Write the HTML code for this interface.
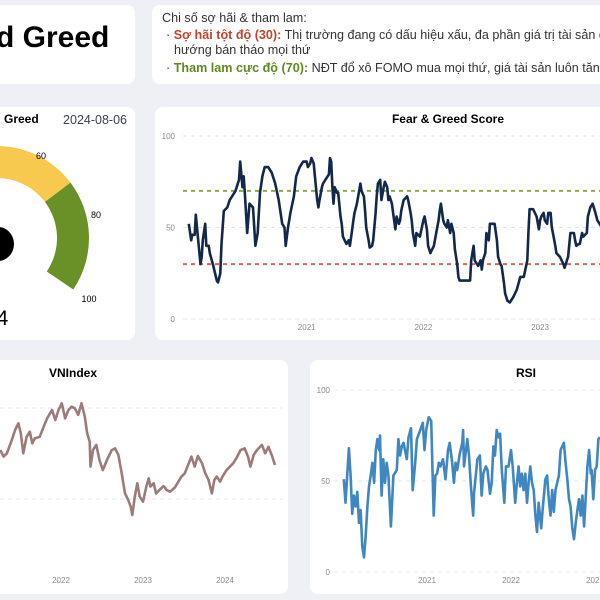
<!DOCTYPE html>
<html><head><meta charset="utf-8">
<style>
body{margin:0;width:600px;height:600px;overflow:hidden;background:#eef0f6;font-family:"Liberation Sans",sans-serif;position:relative}
.card{position:absolute;background:#fff;border-radius:8px}
.t{position:absolute;white-space:nowrap}
</style></head><body>
<div style="position:absolute;left:0;top:0;width:600px;height:600px;overflow:hidden">
<div class="card" style="left:-20px;top:5px;width:155px;height:79px">
  <div class="t" style="left:16px;top:16px;font-size:30px;font-weight:bold;color:#000">d Greed</div>
</div>
<div class="card" style="left:152px;top:5px;width:448px;height:79px;font-size:12.6px;color:#333;overflow:hidden;border-radius:8px 0 0 8px">
  <div class="t" style="left:10px;top:6px">Chi số sợ hãi &amp; tham lam:</div>
  <div class="t" style="left:14px;top:23px">· <b style="color:#c0452b">Sợ hãi tột độ (30):</b> Thị trường đang có dấu hiệu xấu, đa phần giá trị tài sản đều giảm</div>
  <div class="t" style="left:22px;top:38px">hướng bán tháo mọi thứ</div>
  <div class="t" style="left:14px;top:56px">· <b style="color:#5e8a1e">Tham lam cực độ (70):</b> NĐT đổ xô FOMO mua mọi thứ, giá tài sản luôn tăng mỗi ngày</div>
</div>
<div class="card" style="left:-20px;top:107px;width:155px;height:233px"></div>
<div class="card" style="left:155px;top:107px;width:445px;height:233px;border-radius:8px 0 0 8px"></div>
<div class="card" style="left:-20px;top:360px;width:308px;height:234px"></div>
<div class="card" style="left:310px;top:360px;width:290px;height:234px;border-radius:8px 0 0 8px"></div>

<svg id="s" width="600" height="600" style="position:absolute;left:0;top:0" font-family="Liberation Sans, sans-serif">
  <text x="4" y="123" font-size="12" font-weight="bold">Greed</text>
  <text x="127" y="124" font-size="12.5" text-anchor="end" fill="#3a4050">2024-08-06</text>
  <g id="gauge"></g>
  <text x="41" y="159" font-size="9" text-anchor="middle">60</text>
  <text x="96" y="218" font-size="9" text-anchor="middle">80</text>
  <text x="89" y="302" font-size="9" text-anchor="middle">100</text>
  <text x="-15" y="325" font-size="21">54</text>
  <text x="448" y="123" font-size="12" font-weight="bold" text-anchor="middle">Fear &amp; Greed Score</text>
  <text x="73" y="377" font-size="12" font-weight="bold" text-anchor="middle">VNIndex</text>
  <text x="526" y="377" font-size="12" font-weight="bold" text-anchor="middle">RSI</text>
  <g id="charts"></g>
</svg>
</div>
<script>
// Fear & Greed data
const fgDates=[2019.99,2020.01,2020.02,2020.04,2020.05,2020.07,2020.09,2020.10,2020.11,2020.13,2020.14,2020.16,2020.17,2020.20,2020.23,2020.24,2020.26,2020.27,2020.29,2020.32,2020.34,2020.37,2020.39,2020.42,2020.43,2020.45,2020.46,2020.47,2020.49,2020.51,2020.54,2020.56,2020.58,2020.60,2020.62,2020.64,2020.67,2020.70,2020.73,2020.76,2020.79,2020.81,2020.82,2020.84,2020.86,2020.89,2020.91,2020.94,2020.97,2021.00,2021.01,2021.03,2021.04,2021.06,2021.07,2021.09,2021.10,2021.11,2021.13,2021.14,2021.17,2021.19,2021.20,2021.21,2021.22,2021.23,2021.24,2021.26,2021.27,2021.29,2021.30,2021.31,2021.34,2021.36,2021.37,2021.39,2021.40,2021.41,2021.43,2021.46,2021.47,2021.49,2021.50,2021.51,2021.53,2021.54,2021.56,2021.57,2021.59,2021.60,2021.61,2021.63,2021.64,2021.66,2021.67,2021.69,2021.70,2021.71,2021.73,2021.74,2021.76,2021.77,2021.79,2021.80,2021.81,2021.83,2021.86,2021.87,2021.89,2021.90,2021.91,2021.93,2021.94,2021.97,2022.00,2022.01,2022.03,2022.04,2022.06,2022.09,2022.11,2022.13,2022.14,2022.15,2022.17,2022.18,2022.20,2022.21,2022.23,2022.24,2022.26,2022.27,2022.29,2022.30,2022.31,2022.40,2022.41,2022.43,2022.44,2022.47,2022.49,2022.50,2022.51,2022.53,2022.54,2022.56,2022.57,2022.61,2022.63,2022.64,2022.66,2022.67,2022.69,2022.70,2022.72,2022.74,2022.77,2022.80,2022.83,2022.86,2022.89,2022.90,2022.91,2022.94,2022.97,2022.99,2023.00,2023.01,2023.03,2023.04,2023.06,2023.07,2023.09,2023.10,2023.11,2023.13,2023.14,2023.17,2023.20,2023.21,2023.23,2023.24,2023.26,2023.29,2023.30,2023.31,2023.33,2023.34,2023.36,2023.37,2023.40,2023.41,2023.43,2023.45,2023.47,2023.49,2023.51,2023.55,2023.60];
const fgValues=[52,43,46,46,57,43,30,34,43,52,40,40,36,29,21,20,25,41,59,61,65,68,70,76,86,72,78,69,47,63,61,40,47,69,78,83,83,80,74,65,52,50,40,50,58,67,78,83,86,86,83,85,88,85,78,65,61,65,72,74,77,79,88,86,72,63,72,69,69,56,52,45,41,43,40,49,54,58,63,74,70,67,59,50,43,39,40,43,58,67,74,76,65,72,75,72,65,67,63,58,49,56,52,54,59,65,67,65,58,54,47,40,47,45,54,56,49,40,36,40,47,54,59,63,54,52,50,54,47,52,47,38,30,23,21,21,32,40,32,29,32,27,32,36,47,43,52,52,43,34,30,29,20,14,10,9,12,16,23,23,32,47,60,60,56,49,54,56,58,54,52,58,58,50,47,40,36,34,30,28,32,34,47,47,43,40,41,41,47,45,47,56,61,63,59,54,52,48,55];
const fgYTicks=[0,50,100];
const fgXTicks=[2021,2022,2023];
const fgThresholds=[70,30];
// VNIndex data
const vnDates=[2021.26,2021.30,2021.34,2021.40,2021.44,2021.48,2021.51,2021.54,2021.58,2021.62,2021.65,2021.68,2021.74,2021.78,2021.83,2021.89,2021.93,2021.97,2022.01,2022.05,2022.09,2022.13,2022.17,2022.21,2022.25,2022.29,2022.32,2022.35,2022.36,2022.39,2022.43,2022.47,2022.51,2022.56,2022.62,2022.66,2022.70,2022.74,2022.78,2022.82,2022.85,2022.87,2022.90,2022.93,2022.96,2023.00,2023.04,2023.07,2023.09,2023.13,2023.16,2023.20,2023.25,2023.29,2023.33,2023.39,2023.43,2023.47,2023.51,2023.55,2023.59,2023.63,2023.67,2023.72,2023.76,2023.80,2023.84,2023.87,2023.90,2023.94,2023.97,2024.02,2024.06,2024.10,2024.15,2024.19,2024.24,2024.28,2024.31,2024.35,2024.39,2024.45,2024.49,2024.53,2024.57,2024.61];
const vnValues=[1269,1233,1251,1324,1379,1416,1361,1251,1342,1370,1306,1333,1342,1388,1443,1489,1434,1489,1526,1443,1489,1507,1498,1462,1526,1452,1361,1315,1178,1269,1297,1214,1159,1214,1269,1278,1242,1141,1031,995,958,912,1013,1086,1013,985,1068,1114,1068,1086,1031,1049,1071,1049,1040,1064,1095,1123,1141,1187,1233,1178,1236,1196,1141,1104,1031,1104,1123,1095,1123,1159,1178,1196,1233,1269,1278,1233,1178,1242,1269,1297,1251,1287,1242,1187];
const vnYTicks=[1000,1500];
const vnXTicks=[2022,2023,2024];
// RSI data
const rsiDates=[2020.01,2020.03,2020.05,2020.07,2020.09,2020.11,2020.13,2020.15,2020.17,2020.19,2020.21,2020.23,2020.25,2020.27,2020.29,2020.31,2020.33,2020.35,2020.37,2020.39,2020.41,2020.43,2020.44,2020.46,2020.48,2020.50,2020.52,2020.54,2020.57,2020.60,2020.64,2020.66,2020.68,2020.70,2020.72,2020.76,2020.78,2020.81,2020.83,2020.86,2020.88,2020.92,2020.95,2020.97,2020.99,2021.02,2021.05,2021.08,2021.10,2021.12,2021.14,2021.16,2021.19,2021.22,2021.25,2021.27,2021.30,2021.32,2021.34,2021.36,2021.39,2021.42,2021.43,2021.44,2021.48,2021.50,2021.52,2021.54,2021.55,2021.56,2021.60,2021.63,2021.65,2021.67,2021.70,2021.72,2021.75,2021.77,2021.79,2021.81,2021.83,2021.85,2021.87,2021.89,2021.92,2021.94,2021.97,2022.00,2022.02,2022.05,2022.07,2022.09,2022.11,2022.13,2022.15,2022.17,2022.19,2022.21,2022.23,2022.25,2022.27,2022.29,2022.31,2022.33,2022.36,2022.38,2022.41,2022.43,2022.45,2022.47,2022.49,2022.51,2022.53,2022.55,2022.57,2022.59,2022.61,2022.63,2022.65,2022.67,2022.69,2022.71,2022.73,2022.75,2022.77,2022.79,2022.81,2022.83,2022.85,2022.87,2022.89,2022.91,2022.93,2022.95,2022.96,2022.98,2023.00,2023.02,2023.04,2023.06];
const rsiValues=[51,38,53,68,53,32,42,36,44,27,34,14,8,20,36,47,53,60,49,67,73,67,75,42,62,49,60,53,25,53,56,73,64,69,71,62,74,79,45,60,73,78,82,67,78,85,83,31,53,54,60,58,62,51,67,71,60,49,60,56,65,71,78,58,73,64,49,36,31,43,62,64,42,54,58,56,43,49,69,64,78,74,76,56,38,58,58,67,58,38,49,58,47,54,45,54,38,49,58,49,45,31,22,38,24,36,51,53,40,31,45,33,45,49,53,67,69,71,60,51,40,36,24,18,27,34,40,31,42,25,42,58,67,54,56,40,56,58,73,74];
const rsiYTicks=[0,50,100];
const rsiXTicks=[2021,2022,2023];

const NS='http://www.w3.org/2000/svg';
const root=document.getElementById('charts');
function mk(tag,attrs,parent){const e=document.createElementNS(NS,tag);for(const k in attrs)e.setAttribute(k,attrs[k]);(parent||root).appendChild(e);return e;}

function chart(o){
  const g=mk('g',{});
  
  
  const clipId=o.name+'-clip';
  const cp=mk('clipPath',{id:clipId},g);
  mk('rect',{x:o.cl,y:o.ct,width:o.cw,height:o.ch},cp);
  const xs=d=>o.x0+(d-o.xRef)*o.pxYear;
  const ys=v=>o.yBase-(v-o.vBase)*o.pxUnit;
  o.yTicks.forEach(t=>{
    const l=mk('line',{x1:o.gx1,x2:o.gx2,y1:ys(t),y2:ys(t),stroke:'#e4e4e4','stroke-dasharray':'4 4','stroke-width':1,'clip-path':'url(#'+clipId+')'},g);
    
    
    if(o.showY){
      const tx=mk('text',{x:o.lx,y:ys(t)+3,'font-size':8,fill:'#8a8a8a','text-anchor':'end'},g);
      tx.textContent=t;
      
      
    }
  });
  o.xTicks.forEach(t=>{
    const tx=mk('text',{x:xs(t),y:o.xly,'font-size':8,fill:'#8a8a8a','text-anchor':'middle'},g);
    tx.textContent=t;
    
    
  });
  (o.thr||[]).forEach((t,i)=>{
    const l=mk('line',{x1:o.gx1,x2:o.gx2,y1:ys(t),y2:ys(t),stroke:o.thrColors[i],'stroke-dasharray':'4 4','stroke-width':2},g);
    
    
  });
  const pts=o.dates.map((d,i)=>xs(d).toFixed(1)+','+ys(o.values[i]).toFixed(1)).join(' ');
  const pl=mk('polyline',{points:pts,fill:'none',stroke:o.color,'stroke-width':2.6,'stroke-linejoin':'round','clip-path':'url(#'+clipId+')'},g);
  
  
}
chart({name:'fear-greed-chart',dates:fgDates,values:fgValues,yTicks:fgYTicks,xTicks:fgXTicks,thr:fgThresholds,thrColors:['#8aab45','#d46a55'],
  x0:306.7,xRef:2021,pxYear:116.7,yBase:319,vBase:0,pxUnit:1.83,gx1:183,gx2:600,lx:175,xly:330,showY:true,
  cl:183,ct:120,cw:417,ch:210,color:'#13284a'});
chart({name:'vnindex-chart',dates:vnDates,values:vnValues,yTicks:vnYTicks,xTicks:vnXTicks,
  x0:61,xRef:2022,pxYear:82,yBase:499,vBase:1000,pxUnit:0.182,gx1:0,gx2:283,lx:-5,xly:583,showY:false,
  cl:0,ct:380,cw:283,ch:190,color:'#9c7b7b'});
chart({name:'rsi-chart',dates:rsiDates,values:rsiValues,yTicks:rsiYTicks,xTicks:rsiXTicks,
  x0:427,xRef:2021,pxYear:84,yBase:572,vBase:0,pxUnit:1.82,gx1:334,gx2:600,lx:330,xly:583,showY:true,
  cl:334,ct:380,cw:266,ch:200,color:'#3f87c0'});

// gauge
const gg=document.getElementById('gauge');
const cx=-3,cy=238,R=92,r=60;
function arc(a1,a2,color,name){
  const p=(rad,a)=>[cx+rad*Math.cos(a*Math.PI/180),cy-rad*Math.sin(a*Math.PI/180)];
  const [x1,y1]=p(R,a2),[x2,y2]=p(R,a1),[x3,y3]=p(r,a1),[x4,y4]=p(r,a2);
  const large=(a2-a1)>180?1:0;
  const e=mk('path',{d:`M${x1},${y1} A${R},${R} 0 ${large} 1 ${x2},${y2} L${x3},${y3} A${r},${r} 0 ${large} 0 ${x4},${y4} Z`,fill:color},gg);
  
  
}
arc(37,130,'#f7c94f','gauge-greed-band');
arc(-34,37,'#6a9128','gauge-extreme-greed-band');
const hub=mk('ellipse',{cx:-2,cy:244,rx:16,ry:17,fill:'#000'},gg);


</script>
</body></html>
